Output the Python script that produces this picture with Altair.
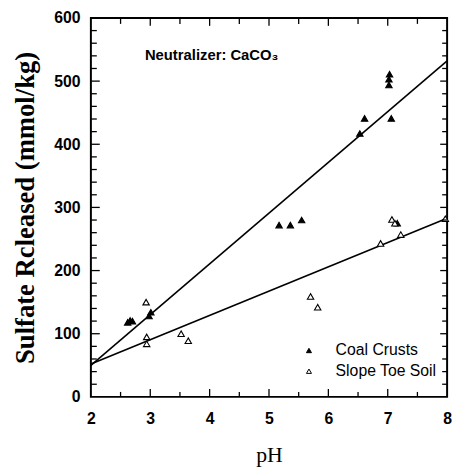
import altair as alt
import pandas as pd

# ---- data ----
coal_ph = [2.62, 2.66, 2.70, 2.98, 3.01, 5.17, 5.36, 5.55, 6.53, 6.61, 7.02, 7.02, 7.03, 7.06, 7.16]
coal_val = [118, 121, 120, 128, 134, 272, 272, 280, 417, 441, 494, 503, 511, 441, 275]

soil_ph = [2.93, 2.94, 2.94, 3.52, 3.64, 5.70, 5.82, 6.88, 7.07, 7.12, 7.22, 7.97]
soil_val = [150, 95, 84, 100, 89, 159, 142, 243, 281, 275, 257, 282]

line_ph = [2, 8]
coal_fit = [50, 532]
soil_fit = [52, 283]

series_names = ["Coal Crusts", "Slope Toe Soil"]

y_major = [100, 200, 300, 400, 500]
y_minor = [20, 40, 60, 80, 120, 140, 160, 180, 220, 240, 260, 280, 320, 340, 360, 380,
           420, 440, 460, 480, 520, 540, 560, 580]
x_major = [3, 4, 5, 6, 7]
x_minor = [2.5, 3.5, 4.5, 5.5, 6.5, 7.5]

note_text = ["Neutralizer: CaCO\u2083"]
note_ph = [2.91]
note_val = [542]

W, H = 361, 384

pts = pd.DataFrame({
    "pH": coal_ph + soil_ph,
    "val": coal_val + soil_val,
    "series": [series_names[0]] * len(coal_ph) + [series_names[1]] * len(soil_ph),
})
lines = pd.DataFrame({
    "pH": line_ph + line_ph,
    "val": coal_fit + soil_fit,
    "series": [series_names[0]] * 2 + [series_names[1]] * 2,
})

xs = alt.Scale(domain=[2, 8], nice=False, zero=False)
ys = alt.Scale(domain=[0, 600], nice=False)

xax = alt.Axis(values=[2, 3, 4, 5, 6, 7, 8], format="d", ticks=False, domain=False, grid=False,
               labelFont="Liberation Sans", labelFontWeight="bold", labelFontSize=16,
               labelColor="black", labelPadding=14, title="pH",
               titleFont="Liberation Serif", titleFontWeight="normal", titleFontSize=22,
               titleColor="black", titlePadding=18, labelFlush=False)
yax = alt.Axis(values=[0, 100, 200, 300, 400, 500, 600], format="d", ticks=False, domain=False,
               grid=False,
               labelFont="Liberation Sans", labelFontWeight="bold", labelFontSize=16,
               labelColor="black", labelPadding=11, title="Sulfate Rcleased (mmol/kg)",
               titleFont="Liberation Serif", titleFontWeight="bold", titleFontSize=27,
               titleColor="black", titlePadding=14, labelFlush=False)

fit = alt.Chart(lines).mark_line(color="black", strokeWidth=1.6).encode(
    x=alt.X("pH:Q", scale=xs, axis=xax),
    y=alt.Y("val:Q", scale=ys, axis=yax),
    detail="series:N",
)

points = alt.Chart(pts).mark_point(shape="triangle-up", filled=True, stroke="black",
                                   strokeWidth=1.1, size=42, opacity=1).encode(
    x=alt.X("pH:Q", scale=xs),
    y=alt.Y("val:Q", scale=ys),
    fill=alt.Fill("series:N", scale=alt.Scale(domain=series_names, range=["black", "white"]),
                  legend=alt.Legend(title=None, orient="none", legendX=213, legendY=329,
                                    symbolType="triangle-up", symbolSize=26,
                                    symbolStrokeColor="black", symbolStrokeWidth=1,
                                    labelFont="Liberation Sans", labelFontSize=16,
                                    labelColor="black", labelOffset=19, rowPadding=5,
                                    padding=0)),
)

note = alt.Chart(pd.DataFrame({"t": note_text, "pH": note_ph, "val": note_val})).mark_text(
    align="left", baseline="middle", font="Liberation Sans", fontSize=15, fontWeight="bold",
    color="black"
).encode(x=alt.X("pH:Q", scale=xs), y=alt.Y("val:Q", scale=ys), text="t:N")

def yticks(vals, left_len, right_len):
    d = pd.DataFrame({"v": vals})
    a = alt.Chart(d).mark_rule(color="black", strokeWidth=1.3).encode(
        y=alt.Y("v:Q", scale=ys), x=alt.value(0), x2=alt.value(left_len))
    b = alt.Chart(d).mark_rule(color="black", strokeWidth=1.3).encode(
        y=alt.Y("v:Q", scale=ys), x=alt.value(W), x2=alt.value(W - right_len))
    return [a, b]

def xticks(vals, bot_len, top_len):
    d = pd.DataFrame({"v": vals})
    a = alt.Chart(d).mark_rule(color="black", strokeWidth=1.3).encode(
        x=alt.X("v:Q", scale=xs), y=alt.value(H), y2=alt.value(H - bot_len))
    b = alt.Chart(d).mark_rule(color="black", strokeWidth=1.3).encode(
        x=alt.X("v:Q", scale=xs), y=alt.value(0), y2=alt.value(top_len))
    return [a, b]

layers = [fit, points, note]
layers += yticks(y_major, 9, 7) + yticks(y_minor, 6, 5)
layers += xticks(x_major, 8, 8) + xticks(x_minor, 5, 6)

chart = alt.layer(*layers).properties(
    width=W, height=H,
    autosize=alt.AutoSizeParams(type="none"),
    padding={"left": 84, "top": 7, "right": 8, "bottom": 70},
    background="white",
).configure_view(stroke="black", strokeWidth=2)

chart.save("out.html", embed_options={"renderer": "svg", "actions": False})
